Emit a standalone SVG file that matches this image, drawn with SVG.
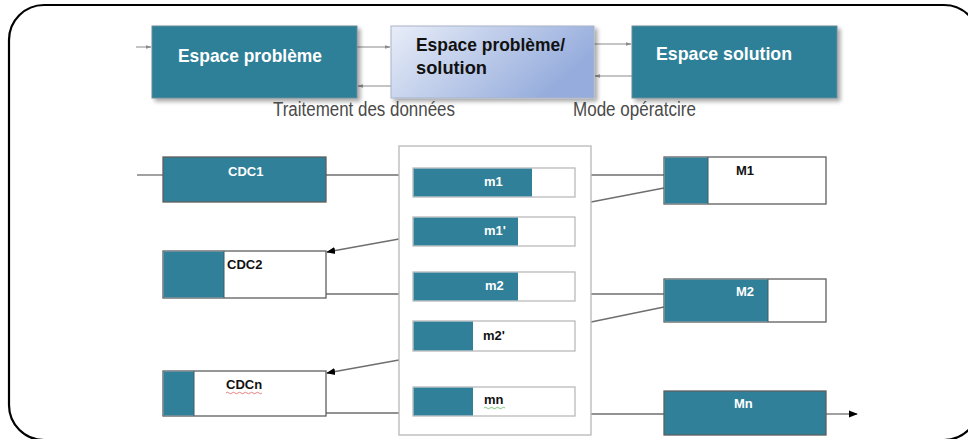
<svg xmlns="http://www.w3.org/2000/svg" width="968" height="439" viewBox="0 0 968 439">
  <defs>
    <linearGradient id="midFill" x1="0" y1="0" x2="1" y2="0.4">
      <stop offset="0" stop-color="#e8edf8"/>
      <stop offset="1" stop-color="#95acdc"/>
    </linearGradient>
    <filter id="shadow" x="-10%" y="-10%" width="125%" height="135%">
      <feGaussianBlur in="SourceAlpha" stdDeviation="2"/>
      <feOffset dx="3" dy="3" result="b"/>
      <feComponentTransfer><feFuncA type="linear" slope="0.35"/></feComponentTransfer>
      <feMerge><feMergeNode/><feMergeNode in="SourceGraphic"/></feMerge>
    </filter>
    <marker id="thinArrow" viewBox="0 0 10 10" refX="9" refY="5" markerWidth="6" markerHeight="6" orient="auto">
      <path d="M0,2 L10,5 L0,8 z" fill="#8a8a8a"/>
    </marker>
    <marker id="blackArrow" viewBox="0 0 10 10" refX="9" refY="5" markerWidth="9" markerHeight="9" orient="auto" markerUnits="userSpaceOnUse">
      <path d="M0,1 L10,5 L0,9 z" fill="#000"/>
    </marker>
  </defs>
  <style>
    .frame { fill: none; stroke: #000; stroke-width: 2.2; }
    .teal { fill: #2f8098; }
    .big { fill: #2f8098; stroke: #6b8a95; stroke-width: 1; }
    .box { fill: #fff; stroke: #5f5f5f; stroke-width: 1.3; }
    .mbox { fill: #fff; stroke: #b4b4b4; stroke-width: 1.2; }
    .panel { fill: #fff; stroke: #bdbdbd; stroke-width: 1.4; }
    .tlink { stroke: #8a8a8a; stroke-width: 1; fill: none; }
    .link { stroke: #6e6e6e; stroke-width: 1.3; fill: none; }
    .title { font-family: "Liberation Sans", Arial, sans-serif; font-weight: bold; font-size: 19px; }
    .caption { font-family: "Liberation Sans", Arial, sans-serif; font-size: 20px; fill: #4a4a4a; }
    .lbl { font-family: "Liberation Sans", Arial, sans-serif; font-weight: bold; font-size: 13px; }
    .w { fill: #fff; }
    .k { fill: #111; }
  </style>

  <!-- outer rounded frame -->
  <rect class="frame" x="9" y="5" width="970" height="435" rx="35" ry="35"/>

  <!-- connectors -->
  <g id="connectors">
    <line class="tlink" x1="136" y1="47" x2="151" y2="47" marker-end="url(#thinArrow)"/>
    <line class="tlink" x1="357" y1="47" x2="390" y2="47" marker-end="url(#thinArrow)"/>
    <line class="tlink" x1="391" y1="86" x2="358" y2="86" marker-end="url(#thinArrow)"/>
    <line class="tlink" x1="594" y1="44" x2="631" y2="44" marker-end="url(#thinArrow)"/>
    <line class="tlink" x1="632" y1="76" x2="595" y2="76" marker-end="url(#thinArrow)"/>

    <line class="link" x1="137" y1="175" x2="163" y2="175"/>
    <line class="link" x1="326" y1="175" x2="399" y2="175"/>
    <line class="link" x1="591" y1="175" x2="664" y2="175"/>
    <line class="link" x1="591" y1="202" x2="664" y2="188"/>
    <line class="link" x1="399" y1="239" x2="327" y2="252" marker-end="url(#blackArrow)"/>
    <line class="link" x1="326" y1="294" x2="399" y2="294"/>
    <line class="link" x1="591" y1="294" x2="664" y2="294"/>
    <line class="link" x1="591" y1="322" x2="664" y2="307"/>
    <line class="link" x1="399" y1="360" x2="327" y2="373" marker-end="url(#blackArrow)"/>
    <line class="link" x1="326" y1="413" x2="399" y2="413"/>
    <line class="link" x1="591" y1="414" x2="664" y2="414"/>
    <line class="link" x1="826" y1="414" x2="857" y2="414" marker-end="url(#blackArrow)"/>
  </g>

  <!-- top row -->
  <g id="espace-probleme">
    <rect class="big" x="152" y="26" width="205" height="72" filter="url(#shadow)"/>
    <text class="title w" x="178" y="62" textLength="144" lengthAdjust="spacingAndGlyphs">Espace problème</text>
  </g>
  <g id="espace-probleme-solution">
    <rect x="391" y="26" width="203" height="72" fill="url(#midFill)" stroke="#a9b4c8" stroke-width="1" filter="url(#shadow)"/>
    <text class="title k" x="416" y="51" textLength="149" lengthAdjust="spacingAndGlyphs">Espace problème/</text>
    <text class="title k" x="416" y="74" textLength="71" lengthAdjust="spacingAndGlyphs">solution</text>
  </g>
  <g id="espace-solution">
    <rect class="big" x="632" y="26" width="205" height="72" filter="url(#shadow)"/>
    <text class="title w" x="656" y="60" textLength="136" lengthAdjust="spacingAndGlyphs">Espace solution</text>
  </g>
  <text class="caption" x="273" y="116" textLength="182" lengthAdjust="spacingAndGlyphs">Traitement des données</text>
  <text class="caption" x="573" y="116" textLength="123" lengthAdjust="spacingAndGlyphs">Mode opératcire</text>

  <!-- left column -->
  <g id="cdc1">
    <rect class="box" x="163" y="157" width="163" height="45" style="fill:#2f8098"/>
    <text class="lbl w" x="228" y="176">CDC1</text>
  </g>
  <g id="cdc2">
    <rect class="box" x="163" y="251" width="163" height="47"/>
    <rect class="teal" x="163.6" y="251.6" width="60.4" height="45.8"/>
    <line x1="224" y1="251" x2="224" y2="298" stroke="#3d5e68" stroke-width="1"/>
    <text class="lbl k" x="227" y="269">CDC2</text>
  </g>
  <g id="cdcn">
    <rect class="box" x="163" y="371" width="163" height="45"/>
    <rect class="teal" x="163.6" y="371.6" width="30.4" height="43.8"/>
    <line x1="194" y1="371" x2="194" y2="416" stroke="#3d5e68" stroke-width="1"/>
    <text class="lbl k" x="226" y="389">CDCn</text>
    <path d="M226,393 q1.5,-1.5 3,0 t3,0 t3,0 t3,0 t3,0 t3,0 t3,0 t3,0 t3,0 t3,0 t3,0 t3,0" fill="none" stroke="#e06060" stroke-width="0.8"/>
  </g>

  <!-- central panel -->
  <g id="panel">
    <rect class="panel" x="399" y="146" width="192" height="289"/>
  </g>
  <g id="m1">
    <rect class="mbox" x="413" y="168" width="162" height="29"/>
    <rect class="teal" x="413.6" y="168.6" width="118.4" height="27.8"/>
    <text class="lbl w" x="484" y="186">m1</text>
  </g>
  <g id="m1p">
    <rect class="mbox" x="413" y="217" width="162" height="29"/>
    <rect class="teal" x="413.6" y="217.6" width="104.4" height="27.8"/>
    <text class="lbl w" x="484" y="235">m1'</text>
  </g>
  <g id="m2">
    <rect class="mbox" x="413" y="272" width="162" height="29"/>
    <rect class="teal" x="413.6" y="272.6" width="104.4" height="27.8"/>
    <text class="lbl w" x="485" y="290">m2</text>
  </g>
  <g id="m2p">
    <rect class="mbox" x="413" y="321" width="162" height="30"/>
    <rect class="teal" x="413.6" y="321.6" width="59.4" height="28.8"/>
    <text class="lbl k" x="483" y="340">m2'</text>
  </g>
  <g id="mn">
    <rect class="mbox" x="413" y="387" width="162" height="29"/>
    <rect class="teal" x="413.6" y="387.6" width="59.4" height="27.8"/>
    <text class="lbl k" x="484" y="404">mn</text>
    <path d="M484,408 q1.5,-1.5 3,0 t3,0 t3,0 t3,0 t3,0 t3,0 t3,0" fill="none" stroke="#5cb85c" stroke-width="0.8"/>
  </g>

  <!-- right column -->
  <g id="M1">
    <rect class="box" x="664" y="157" width="162" height="47"/>
    <rect class="teal" x="664.6" y="157.6" width="43.4" height="45.8"/>
    <line x1="708" y1="157" x2="708" y2="204" stroke="#3d5e68" stroke-width="1"/>
    <text class="lbl k" x="736" y="175">M1</text>
  </g>
  <g id="M2">
    <rect class="box" x="664" y="279" width="162" height="43"/>
    <rect class="teal" x="664.6" y="279.6" width="103.4" height="41.8"/>
    <line x1="768" y1="279" x2="768" y2="322" stroke="#3d5e68" stroke-width="1"/>
    <text class="lbl w" x="736" y="296">M2</text>
  </g>
  <g id="Mn">
    <rect class="box" x="664" y="391" width="162" height="44" style="fill:#2f8098"/>
    <text class="lbl w" x="734" y="408">Mn</text>
  </g>
</svg>
